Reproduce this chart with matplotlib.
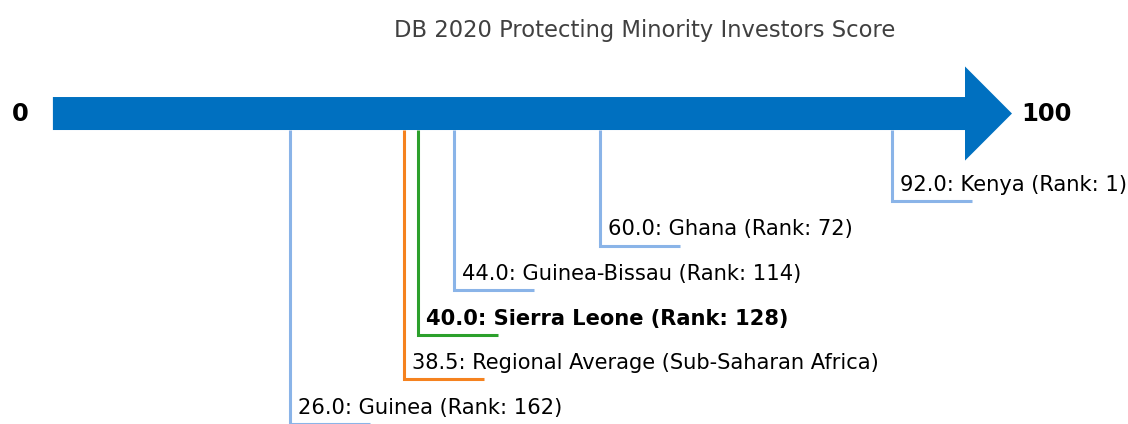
import numpy as np
import matplotlib
matplotlib.use("Agg")
import matplotlib.pyplot as plt

# ---- data ----
names = ["Kenya", "Ghana", "Guinea-Bissau", "Sierra Leone",
         "Regional Average (Sub-Saharan Africa)", "Guinea"]
scores = [92.0, 60.0, 44.0, 40.0, 38.5, 26.0]
ranks = [1, 72, 114, 128, None, 162]
kinds = ["peer", "peer", "peer", "focus", "regional", "peer"]

title = "DB 2020 Protecting Minority Investors Score"

colors = {"peer": "#8ab4e8", "focus": "#2ca02c", "regional": "#f5821f"}
bar_color = "#0070c0"

fig = plt.figure(figsize=(11.28, 4.24), dpi=100)
ax = fig.add_axes([0, 0, 1, 1])
ax.set_xlim(-5.80, 117.87)
ax.set_ylim(-6.96, 2.545)
ax.axis("off")

# the big arrow, 0 -> 100 plus head
ax.arrow(0, 0, 105.15, 0, width=0.74, head_width=2.11, head_length=5.15,
         length_includes_head=True, color=bar_color, lw=0)
ax.text(-3.6, 0, "0", ha="center", va="center", fontsize=17.5, fontweight="bold")
ax.text(108.9, 0, "100", ha="center", va="center", fontsize=17.5, fontweight="bold")

# stagger labels by score, highest first
order = np.argsort(scores)[::-1]
seg = 8.77
for lvl, i in enumerate(order, start=1):
    s = scores[i]
    y = -(lvl + 0.96)
    c = colors[kinds[i]]
    ax.plot([s, s, s + seg], [-0.37, y, y], color=c, lw=2.2,
            solid_joinstyle="miter", solid_capstyle="butt")
    if ranks[i] is None:
        label = f"{s:.1f}: {names[i]}"
    else:
        label = f"{s:.1f}: {names[i]} (Rank: {ranks[i]})"
    ax.text(s + 0.9, y + 0.23, label, ha="left", va="baseline", fontsize=15.1,
            fontweight="bold" if kinds[i] == "focus" else "normal",
            color="black")

fig.text(645 / 1128, 1 - 30 / 424, title, ha="center", va="center",
         fontsize=16.3, color="#404040")

fig.savefig("out.png", dpi=100)
